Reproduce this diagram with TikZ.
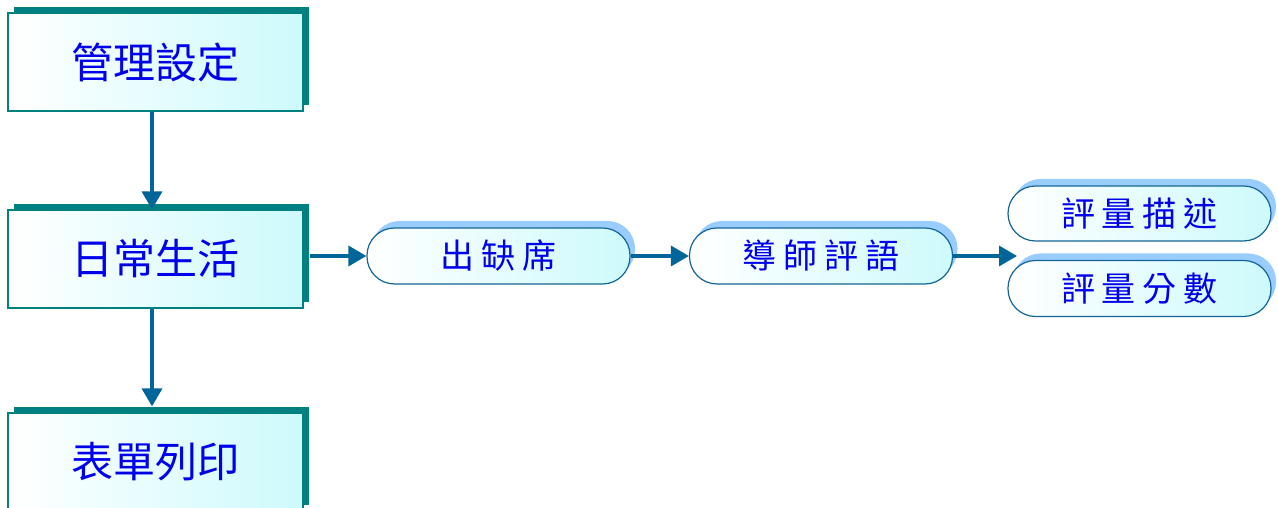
\documentclass[tikz,border=0pt]{standalone}
\usepackage{fontspec}
\newfontfamily\cjk{Noto Sans CJK TC}
\usetikzlibrary{shadows,arrows.meta}
\definecolor{boxteal}{RGB}{0,128,128}
\definecolor{arrowblue}{RGB}{0,102,153}
\definecolor{pillshadow}{RGB}{153,204,255}
\definecolor{pillborder}{RGB}{20,100,150}
\definecolor{txtblue}{RGB}{0,0,235}
\definecolor{lightcyan}{RGB}{205,250,252}
\tikzset{
  x=1pt,y=1pt,
  mainbox/.style={rectangle, draw=boxteal, line width=1.2pt, minimum width=295pt, minimum height=98pt,
    left color=white, right color=lightcyan, inner sep=0pt,
    copy shadow={shadow xshift=6pt, shadow yshift=6pt, fill=boxteal, draw=none},
    font=\cjk\fontsize{42}{46}\selectfont, text=txtblue},
  pill/.style={rectangle, rounded corners=27.5pt, draw=pillborder, line width=1.2pt,
    minimum width=263pt, minimum height=56pt, inner sep=0pt,
    left color=white, right color=lightcyan,
    copy shadow={shadow xshift=5pt, shadow yshift=7pt, fill=pillshadow, draw=none},
    font=\cjk\fontsize{34}{38}\selectfont, text=txtblue},
  conn/.style={draw=arrowblue, line width=3.5pt, -{Triangle[length=18pt,width=20pt]}}
}
\newcommand{\gp}{\hspace{7pt}}
\begin{document}
\begin{tikzpicture}
\useasboundingbox (0,0) rectangle (1278,508);
\node[mainbox] (b1) at (155.5,446) {管理設定};
\node[mainbox] (b2) at (155.5,249) {日常生活};
\node[mainbox] (b3) at (155.5,46) {表單列印};
\node[pill] (p1) at (498.5,252) {出\gp 缺\gp 席};
\node[pill] (p2) at (821,252) {導\gp 師\gp 評\gp 語};
\node[pill, minimum height=55pt] (p3) at (1139.5,294.5) {評\gp 量\gp 描\gp 述};
\node[pill] (p4) at (1139.5,219.5) {評\gp 量\gp 分\gp 數};
\coordinate (t3) at (1017,252);
\draw[conn] ([xshift=-3.5pt]b1.south) -- ([xshift=-3.5pt]b2.north);
\draw[conn] ([xshift=-3.5pt]b2.south) -- ([xshift=-3.5pt,yshift=6pt]b3.north);
\draw[conn] ([xshift=6pt]b2.east |- p1.west) -- (p1.west);
\draw[conn] (p1.east) -- (p2.west);
\draw[conn] (p2.east) -- (t3);
\end{tikzpicture}
\end{document}
